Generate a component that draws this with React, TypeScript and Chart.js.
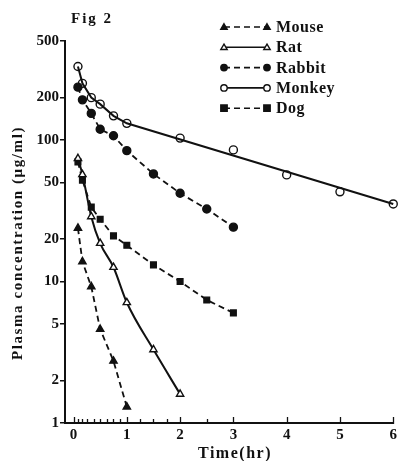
import React, { useEffect, useRef } from "react";
import { Chart, registerables } from "chart.js";
Chart.register(...registerables);

// ---- data ----
const mouseTimes = [0.083, 0.167, 0.333, 0.5, 0.75, 1];
const mouseConc = [23.8, 13.8, 9.2, 4.6, 2.74, 1.3];
const ratTimes = [0.083, 0.167, 0.333, 0.5, 0.75, 1, 1.5, 2];
const ratConc = [74, 57, 28.7, 18.6, 12.6, 7.1, 3.3, 1.6];
const rabbitTimes = [0.083, 0.167, 0.333, 0.5, 0.75, 1, 1.5, 2, 2.5, 3];
const rabbitConc = [236, 192, 154, 119, 107, 84, 57.5, 42, 32.5, 24.2];
const monkeyTimes = [0.083, 0.167, 0.333, 0.5, 0.75, 1, 2, 3, 4, 5, 6];
const monkeyConc = [330, 251, 199, 179, 148, 131, 103, 85, 56.6, 43, 35.3];
const monkeyLineTimes = [0.083, 0.167, 0.333, 0.5, 0.75, 1, 6];
const monkeyLineConc = [330, 251, 199, 179, 148, 131, 35.3];
const dogTimes = [0.083, 0.167, 0.333, 0.5, 0.75, 1, 1.5, 2, 2.5, 3];
const dogConc = [70, 52, 33.5, 27.5, 21, 18, 13.1, 10, 7.4, 6.0];

const yTicks = [1, 2, 5, 10, 20, 50, 100, 200, 500];
const xMajorTicks = [0, 1, 2, 3, 4, 5, 6];
const xMinorTicks = [0.083, 0.167, 0.25, 0.375, 0.5, 0.625, 0.75, 0.875, 1.25, 1.5, 1.75, 2.5];

const seriesNames = ["Mouse", "Rat", "Rabbit", "Monkey", "Dog"];

const INK = "#111";
const FONT = '"Liberation Serif", "DejaVu Serif", serif';

type Marker = { shape: "triangle" | "circle" | "rect"; filled: boolean; dashed: boolean };
const markers: Marker[] = [
  { shape: "triangle", filled: true, dashed: true },
  { shape: "triangle", filled: false, dashed: false },
  { shape: "circle", filled: true, dashed: true },
  { shape: "circle", filled: false, dashed: false },
  { shape: "rect", filled: true, dashed: true },
];

function drawMarker(ctx: CanvasRenderingContext2D, m: Marker, x: number, y: number, r: number) {
  ctx.save();
  ctx.setLineDash([]);
  ctx.lineWidth = 1.4;
  ctx.strokeStyle = INK;
  ctx.fillStyle = m.filled ? INK : "#fff";
  ctx.beginPath();
  if (m.shape === "circle") {
    ctx.arc(x, y, r, 0, Math.PI * 2);
  } else if (m.shape === "rect") {
    ctx.rect(x - r, y - r, 2 * r, 2 * r);
  } else {
    const h = r * 1.7;
    ctx.moveTo(x, y - h * 0.6);
    ctx.lineTo(x + r, y + h * 0.4);
    ctx.lineTo(x - r, y + h * 0.4);
    ctx.closePath();
  }
  ctx.fill();
  ctx.stroke();
  ctx.restore();
}

const pts = (t: number[], c: number[]) => t.map((x, i) => ({ x, y: c[i] }));

const decorPlugin = {
  id: "decor",
  afterDraw(chart: any) {
    const ctx: CanvasRenderingContext2D = chart.ctx;
    const xs = chart.scales.x;
    const area = chart.chartArea;
    ctx.save();
    // inward ticks on the x axis
    ctx.strokeStyle = INK;
    ctx.lineWidth = 1.3;
    ctx.setLineDash([]);
    xMajorTicks.forEach((v) => {
      const px = Math.round(xs.getPixelForValue(v)) + 0.5;
      ctx.beginPath();
      ctx.moveTo(px, area.bottom + 1);
      ctx.lineTo(px, area.bottom - 6);
      ctx.stroke();
    });
    xMinorTicks.forEach((v) => {
      const px = Math.round(xs.getPixelForValue(v)) + 0.5;
      ctx.beginPath();
      ctx.moveTo(px, area.bottom);
      ctx.lineTo(px, area.bottom - 4);
      ctx.stroke();
    });

    // title
    ctx.fillStyle = INK;
    (ctx as any).letterSpacing = "2px";
    ctx.font = `bold 15px ${FONT}`;
    ctx.textAlign = "left";
    ctx.textBaseline = "alphabetic";
    ctx.fillText("Fig 2", 71, 23);

    // x title
    (ctx as any).letterSpacing = "1.5px";
    ctx.font = `bold 16px ${FONT}`;
    ctx.textAlign = "center";
    ctx.fillText("Time(hr)", 235, 458);

    // y title
    ctx.save();
    ctx.translate(22, 243);
    ctx.rotate(-Math.PI / 2);
    (ctx as any).letterSpacing = "1.6px";
    ctx.font = `bold 15px ${FONT}`;
    ctx.textAlign = "center";
    ctx.textBaseline = "alphabetic";
    ctx.fillText("Plasma concentration (\u03bcg/ml)", 0, 0);
    ctx.restore();

    // legend
    (ctx as any).letterSpacing = "0.5px";
    ctx.font = `bold 16px ${FONT}`;
    ctx.textAlign = "left";
    ctx.textBaseline = "middle";
    seriesNames.forEach((name, i) => {
      const y = 27 + i * 20.3;
      const m = markers[i];
      ctx.save();
      ctx.strokeStyle = INK;
      ctx.lineWidth = 1.6;
      ctx.setLineDash(m.dashed ? [6, 4] : []);
      ctx.beginPath();
      ctx.moveTo(224, y);
      ctx.lineTo(267, y);
      ctx.stroke();
      ctx.restore();
      drawMarker(ctx, m, 224, y, 3.2);
      drawMarker(ctx, m, 267, y, 3.2);
      ctx.fillStyle = INK;
      ctx.fillText(name, 276, y + 1);
    });
    ctx.restore();
  },
};

export default function App() {
  const ref = useRef<HTMLCanvasElement>(null);
  useEffect(() => {
    if (!ref.current) return;
    const lineBase = {
      borderColor: INK,
      borderWidth: 1.8,
      pointBorderColor: INK,
      pointBorderWidth: 1.4,
      clip: false as any,
    };
    const chart = new Chart(ref.current, {
      type: "scatter",
      data: {
        datasets: [
          {
            ...lineBase,
            label: "Monkey fit",
            data: pts(monkeyLineTimes, monkeyLineConc),
            showLine: true,
            pointRadius: 0,
            borderWidth: 2,
          },
          {
            ...lineBase,
            label: seriesNames[0],
            data: pts(mouseTimes, mouseConc),
            showLine: true,
            borderDash: [6, 4],
            pointStyle: "triangle",
            pointRadius: 4.2,
            pointBackgroundColor: INK,
          },
          {
            ...lineBase,
            label: seriesNames[1],
            data: pts(ratTimes, ratConc),
            showLine: true,
            cubicInterpolationMode: "monotone",
            pointStyle: "triangle",
            pointRadius: 4.2,
            pointBackgroundColor: "#fff",
            borderWidth: 2,
          },
          {
            ...lineBase,
            label: seriesNames[2],
            data: pts(rabbitTimes, rabbitConc),
            showLine: true,
            borderDash: [6, 4],
            pointStyle: "circle",
            pointRadius: 4,
            pointBackgroundColor: INK,
          },
          {
            ...lineBase,
            label: seriesNames[3],
            data: pts(monkeyTimes, monkeyConc),
            showLine: false,
            pointStyle: "circle",
            pointRadius: 4,
            pointBackgroundColor: "#fff",
          },
          {
            ...lineBase,
            label: seriesNames[4],
            data: pts(dogTimes, dogConc),
            showLine: true,
            borderDash: [6, 4],
            pointStyle: "rect",
            pointRadius: 4,
            pointBackgroundColor: INK,
          },
        ] as any,
      },
      options: {
        animation: false,
        responsive: false,
        events: [],
        layout: { padding: { top: 41, right: 4, left: 0, bottom: 0 } },
        plugins: { legend: { display: false }, tooltip: { enabled: false }, title: { display: false } },
        scales: {
          x: {
            type: "linear",
            min: -0.16,
            max: 6,
            afterBuildTicks: (s: any) => {
              s.ticks = xMajorTicks.map((v) => ({ value: v }));
            },
            afterFit: (s: any) => {
              s.height = 38;
            },
            ticks: {
              color: INK,
              font: { family: FONT, size: 15, weight: "bold" },
              padding: 3,
              maxRotation: 0,
              autoSkip: false,
              callback: (v: any) => String(v),
            },
            grid: { display: true, drawOnChartArea: false, drawTicks: false, color: INK },
            border: { display: true, color: INK, width: 2 },
          },
          y: {
            type: "logarithmic",
            min: 1,
            max: 500,
            afterBuildTicks: (s: any) => {
              s.ticks = yTicks.map((v) => ({ value: v }));
            },
            afterFit: (s: any) => {
              s.width = 65;
            },
            ticks: {
              color: INK,
              font: { family: FONT, size: 15, weight: "bold" },
              padding: 1,
              autoSkip: false,
              callback: (v: any) => String(v),
            },
            grid: { display: true, drawOnChartArea: false, drawTicks: true, tickLength: 5, color: INK, lineWidth: 1.5 },
            border: { display: true, color: INK, width: 2 },
          },
        },
      } as any,
      plugins: [decorPlugin],
    });
    return () => chart.destroy();
  }, []);
  return (
    <div style={{ position: "absolute", left: 0, top: 0, width: 400, height: 461, background: "#fff" }}>
      <canvas ref={ref} width={400} height={461} style={{ width: 400, height: 461, display: "block" }} />
    </div>
  );
}
